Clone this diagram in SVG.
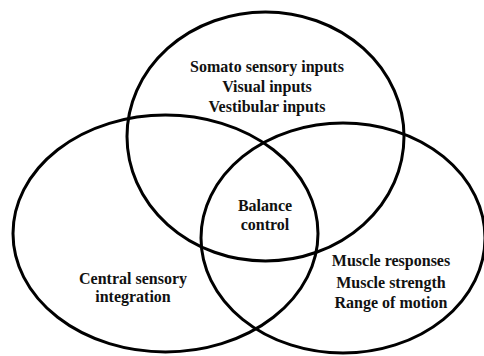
<svg xmlns="http://www.w3.org/2000/svg" width="484" height="356" viewBox="0 0 484 356">
  <style>
    .ring { fill: none; stroke: #000; stroke-width: 3; }
    .label { font-family: "Liberation Serif", "Times New Roman", serif; font-size: 16px; font-weight: bold; fill: #111; text-anchor: middle; }
  </style>
  <rect width="484" height="356" fill="#fff"/>
  <g id="sensory-inputs">
    <ellipse class="ring" cx="265.5" cy="136.5" rx="138.5" ry="124.5"/>
    <text class="label" x="267" y="72">Somato sensory inputs</text>
    <text class="label" x="267" y="92">Visual inputs</text>
    <text class="label" x="267" y="112">Vestibular inputs</text>
  </g>
  <g id="central-integration">
    <ellipse class="ring" cx="165.5" cy="233.5" rx="152.5" ry="118.5"/>
    <text class="label" x="133" y="284">Central sensory</text>
    <text class="label" x="133" y="302">integration</text>
  </g>
  <g id="motor-output">
    <ellipse class="ring" cx="343" cy="238" rx="142" ry="115"/>
    <text class="label" x="391" y="266">Muscle responses</text>
    <text class="label" x="391" y="288">Muscle strength</text>
    <text class="label" x="391" y="308">Range of motion</text>
  </g>
  <g id="balance-control">
    <text class="label" x="265" y="211">Balance</text>
    <text class="label" x="265" y="230">control</text>
  </g>
</svg>
